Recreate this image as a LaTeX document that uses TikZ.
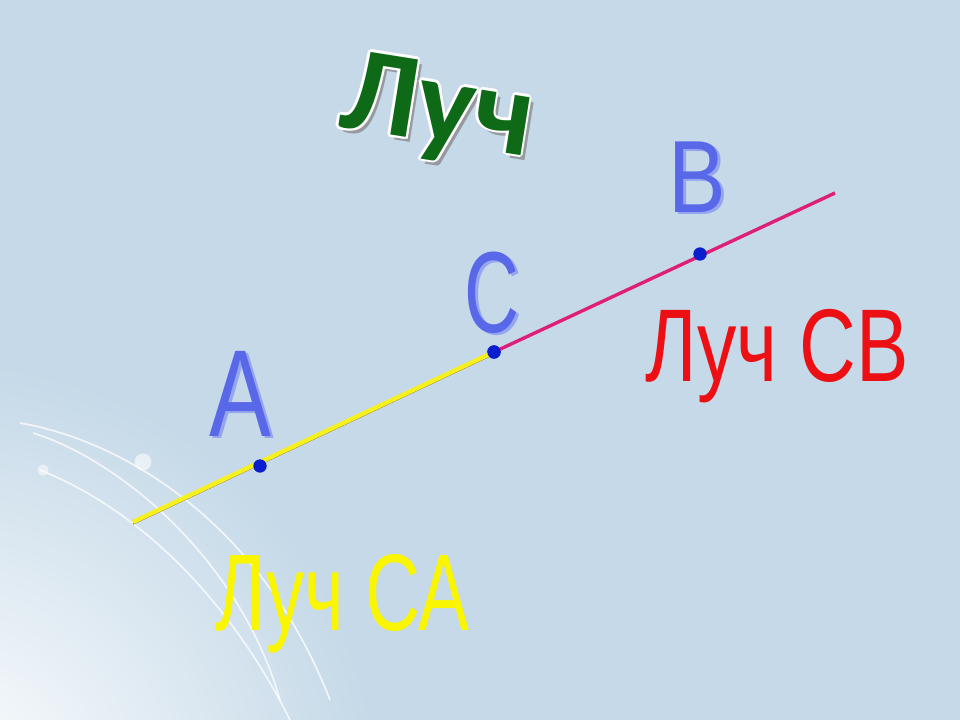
\documentclass[tikz,border=0pt]{standalone}
\usepackage{fontspec}
\setmainfont{Liberation Sans}
\newfontfamily\titlefont{Carlito}
\usetikzlibrary{positioning,calc}

\definecolor{bgblue}{RGB}{197,217,232}
\definecolor{titlegreen}{RGB}{14,106,22}
\definecolor{letterblue}{RGB}{88,104,232}
\definecolor{lettershade}{RGB}{150,166,238}
\definecolor{dotblue}{RGB}{10,30,205}
\definecolor{raymagenta}{RGB}{222,30,120}
\definecolor{rayyellow}{RGB}{246,240,30}
\definecolor{labelred}{RGB}{236,16,20}
\definecolor{labelyellow}{RGB}{250,246,0}

\begin{document}
\begin{tikzpicture}[x=0.025cm,y=-0.025cm,inner sep=0pt]
       \tikzstyle{dot}=[circle,fill=dotblue,minimum size=9.5pt]
       \tikzstyle{letter}=[text=letterblue,font=\fontsize{88}{88}\selectfont]
       \tikzstyle{shade}=[text=lettershade,font=\fontsize{88}{88}\selectfont]
       \tikzstyle{swoosh}=[white,opacity=0.75,line width=1.2pt]
       \tikzstyle{heading}=[rotate=-9,font=\titlefont\bfseries\fontsize{86}{86}\selectfont]

       % background
       \useasboundingbox (0,0) rectangle (960,720);
       \clip (0,0) rectangle (960,720);
       \fill[bgblue] (0,0) rectangle (960,720);
       \shade[inner color=white,outer color=bgblue] (-60,800) circle [radius=11cm];

       % swooshes
       \draw[swoosh] (20,423) .. controls (120,440) and (260,520) .. (330,700);
       \draw[swoosh] (33,433) .. controls (120,460) and (240,560) .. (280,700);
       \draw[swoosh] (40,470) .. controls (140,510) and (230,600) .. (290,720);
       \fill[white,opacity=0.6] (143,462) circle [radius=6pt];
       \fill[white,opacity=0.5] (43,470) circle [radius=4pt];

       % title
       \node[heading,text=gray!70!bgblue] at (441,117) {Луч};
       \foreach \a in {0,45,...,315}
         \node[heading,text=white] at ($(437,112)+(\a:1.8pt)$) {Луч};
       \node[heading,text=titlegreen] (title) at (437,112) {Луч};

       % ray
       \coordinate (start) at (133,522);
       \coordinate (end) at (835,193);
       \node[dot] (c) at (494,352) {};
       \draw[brown!70!black,line width=1pt] ([yshift=-1.4pt]start) -- ([yshift=-1.4pt]c.center);
       \draw[rayyellow,line width=3.2pt] (start) -- (c.center);
       \draw[raymagenta,line width=2.4pt] (c.center) -- (end);
       \node[dot] (a) at (260,466) {};
       \node[dot] (b) at (700,254) {};
       \node[dot] at (c) {};

       % point names
       \node[shade,anchor=base,xscale=0.75] at (243,439) {A};
       \node[letter,anchor=base,xscale=0.75] (la) at (240,437) {A};
       \node[shade,anchor=base,xscale=0.66,font=\fontsize{82}{82}\selectfont] at (495,335) {C};
       \node[letter,anchor=base,xscale=0.66,font=\fontsize{82}{82}\selectfont] (lc) at (492,333) {C};
       \node[shade,anchor=base,xscale=0.84,font=\fontsize{73}{73}\selectfont] at (700,215) {B};
       \node[letter,anchor=base,xscale=0.84,font=\fontsize{73}{73}\selectfont] (lb) at (697,213) {B};

       % ray names
       \node[anchor=base west,xscale=0.76,text=labelred,font=\fontsize{73.5}{73.5}\selectfont]
         (cb) at (645,382) {Луч СВ};
       \node[anchor=base west,xscale=0.70,text=labelyellow,font=\fontsize{77.5}{77.5}\selectfont]
         (ca) at (215,630) {Луч СА};
\end{tikzpicture}
\end{document}
